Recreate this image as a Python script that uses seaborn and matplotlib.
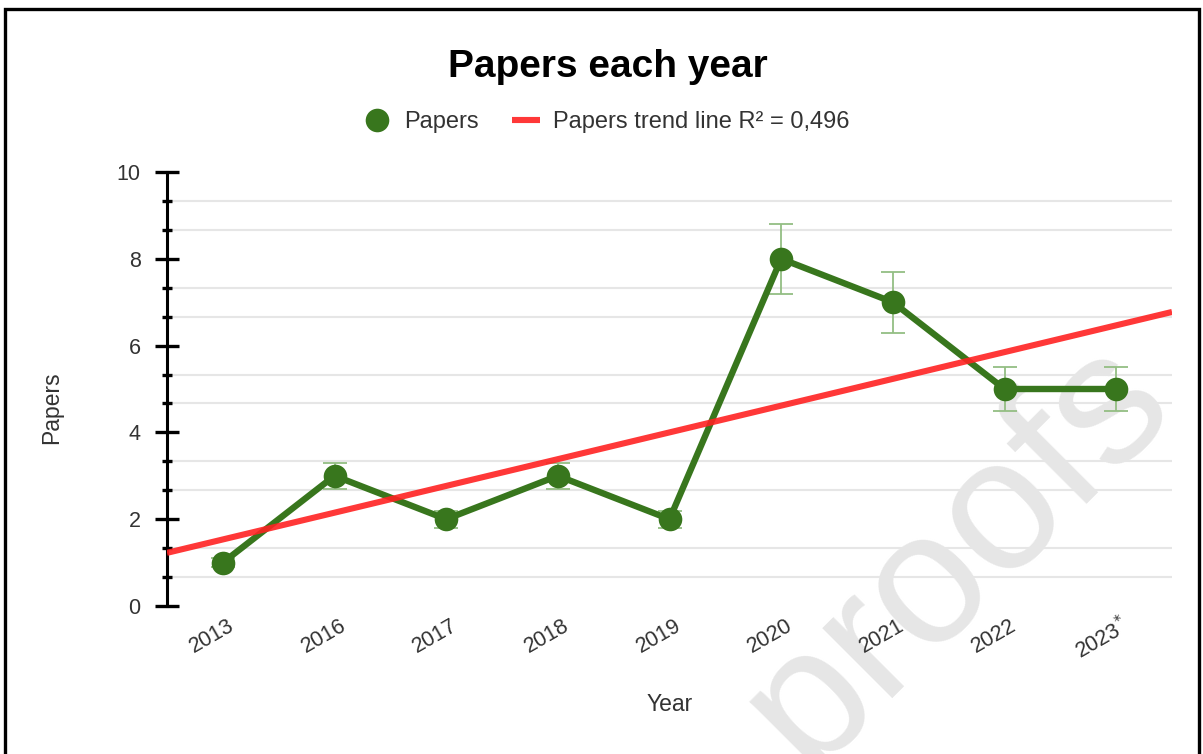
import numpy as np
import pandas as pd
import matplotlib
matplotlib.use("Agg")
import matplotlib.pyplot as plt
import seaborn as sns
from matplotlib.lines import Line2D
from matplotlib.patches import Rectangle
from matplotlib.ticker import MultipleLocator
from matplotlib.transforms import ScaledTranslation

# ---- data ----
years = ["2013", "2016", "2017", "2018", "2019", "2020", "2021", "2022", "2023$^{*}$"]
papers = [1, 3, 2, 3, 2, 8, 7, 5, 5]
errors = [0.1, 0.3, 0.2, 0.3, 0.2, 0.8, 0.7, 0.5, 0.5]
title = "Papers each year"
legend_labels = ["Papers", "Papers trend line R² = 0,496"]

sns.set_theme(style="white")
plt.rcParams["font.family"] = ["Liberation Sans", "DejaVu Sans"]

GREEN = "#38761d"
RED = "#ff2222"
TXT = "#333333"

W, H = 1203, 754
fig = plt.figure(figsize=(W / 100, H / 100), dpi=100)
fig.patch.set_facecolor("white")

ax = fig.add_axes([167 / W, 1 - 606 / H, (1172 - 167) / W, (606 - 172) / H])
ax.set_facecolor("none")

df = pd.DataFrame({"idx": np.arange(len(years)), "papers": papers, "err": errors})

ax.set_xlim(-0.5, len(years) - 0.5)
ax.set_ylim(0, 10)

# error bars
ax.errorbar(df["idx"], df["papers"], yerr=df["err"], fmt="none",
            ecolor="#93be83", elinewidth=1.3, capsize=8.5, capthick=1.3, zorder=2)

# main series
sns.lineplot(data=df, x="idx", y="papers", ax=ax, color=GREEN, lw=4.6,
             marker="o", markersize=17, markeredgewidth=0, zorder=3, legend=False)

# trend line (least squares)
sns.regplot(data=df, x="idx", y="papers", ax=ax, scatter=False, ci=None, truncate=False,
            line_kws=dict(color=RED, lw=4.4, alpha=0.9, zorder=4, solid_capstyle="butt"))

ax.set_xlim(-0.5, len(years) - 0.5)
ax.set_ylim(0, 10)

# axes styling
for s in ["top", "right", "bottom"]:
    ax.spines[s].set_visible(False)
ax.spines["left"].set_color("black")
ax.spines["left"].set_linewidth(2.2)

ax.yaxis.set_major_locator(MultipleLocator(2))
ax.yaxis.set_minor_locator(MultipleLocator(2 / 3))
ax.tick_params(axis="y", which="major", direction="inout", length=17, width=2.4,
               color="black", labelsize=15.5, labelcolor=TXT, pad=10.5, left=True)
ax.tick_params(axis="y", which="minor", direction="inout", length=7.5, width=2.4,
               color="black", left=True)
ax.yaxis.grid(True, which="minor", color="#e6e6e6", lw=1.5)
ax.yaxis.grid(False, which="major")
ax.xaxis.grid(False)

ax.set_xticks(df["idx"])
ax.set_xticklabels(years, rotation=30, ha="right", va="center", rotation_mode="anchor",
                   fontsize=15.5, color=TXT)
ax.tick_params(axis="x", length=0, pad=13)
for lab in ax.get_xticklabels():
    lab.set_transform(lab.get_transform() + ScaledTranslation(0.10, 0, fig.dpi_scale_trans))

ax.set_xlabel("Year", fontsize=16.5, color=TXT)
ax.xaxis.set_label_coords(0.5, (606 - 693) / 434)
ax.set_ylabel("Papers", fontsize=16.5, color=TXT)
ax.yaxis.set_label_coords((63 - 167) / 1005, (606 - 408) / 434)

# title & legend
fig.text(608 / W, 1 - 77 / H, title, ha="center", va="baseline",
         fontsize=28, fontweight="bold", color="black")
handles = [
    Line2D([], [], color=GREEN, marker="o", markersize=17, lw=0, markeredgewidth=0),
    Line2D([], [], color=RED, lw=4.4, alpha=0.9, solid_capstyle="butt"),
]
leg = fig.legend(handles, legend_labels, loc="center", bbox_to_anchor=(606 / W, 1 - 122 / H),
                 ncol=2, frameon=False, fontsize=17, handlelength=1.2, handletextpad=0.55,
                 columnspacing=1.4, labelcolor=TXT)

# watermark
fig.text(957 / W, 1 - 553 / H, "proofs", rotation=45, ha="center", va="center",
         rotation_mode="anchor", fontsize=135, color="#e6e6e6", zorder=-1)

# frame
fig.patches.append(Rectangle((5 / W, -0.1), (1199 - 5) / W, 1.1 - 9 / H, transform=fig.transFigure,
                             fill=False, edgecolor="black", lw=2.4, zorder=10))

fig.savefig("out.png", dpi=100)
